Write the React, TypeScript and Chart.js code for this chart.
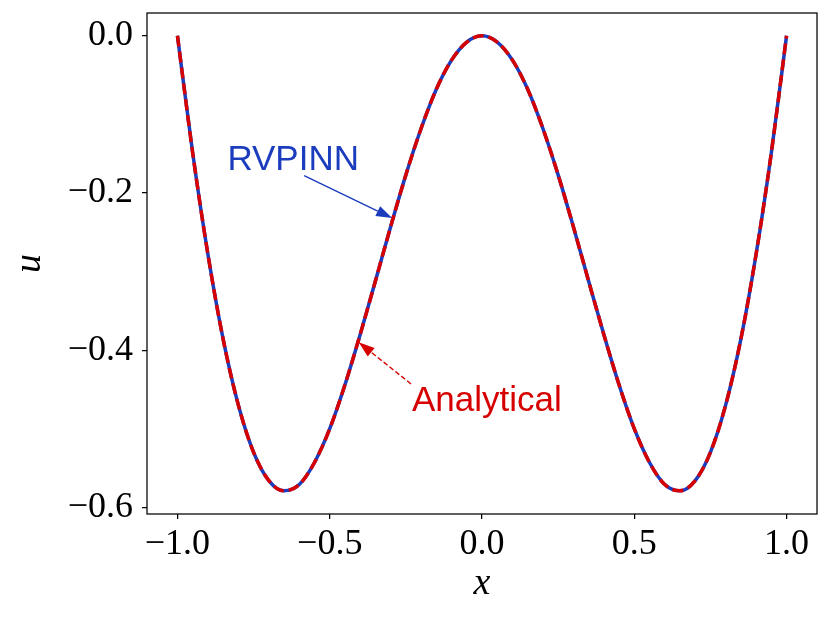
import { useEffect, useRef } from "react";
import { Chart, registerables } from "chart.js";

Chart.register(...registerables);

// x grid (read at 0.05 steps)
const xValues = [
  -1.0, -0.95, -0.9, -0.85, -0.8, -0.75, -0.7, -0.65, -0.6, -0.55, -0.5,
  -0.45, -0.4, -0.35, -0.3, -0.25, -0.2, -0.15, -0.1, -0.05, 0.0,
  0.05, 0.1, 0.15, 0.2, 0.25, 0.3, 0.35, 0.4, 0.45, 0.5,
  0.55, 0.6, 0.65, 0.7, 0.75, 0.8, 0.85, 0.9, 0.95, 1.0,
];

const analytical = [
  0, -0.149, -0.278, -0.386, -0.47, -0.53, -0.566, -0.579, -0.571, -0.543, -0.5,
  -0.444, -0.38, -0.312, -0.243, -0.177, -0.118, -0.068, -0.031, -0.008, 0,
  -0.008, -0.031, -0.068, -0.118, -0.177, -0.243, -0.312, -0.38, -0.444, -0.5,
  -0.543, -0.571, -0.579, -0.566, -0.53, -0.47, -0.386, -0.278, -0.149, 0,
];

const rvpinn = [
  0, -0.149, -0.278, -0.386, -0.47, -0.53, -0.566, -0.579, -0.571, -0.543, -0.5,
  -0.444, -0.38, -0.312, -0.243, -0.177, -0.118, -0.068, -0.031, -0.008, 0,
  -0.008, -0.031, -0.068, -0.118, -0.177, -0.243, -0.312, -0.38, -0.444, -0.5,
  -0.543, -0.571, -0.579, -0.566, -0.53, -0.47, -0.386, -0.278, -0.149, 0,
];

const xTicks = [-1.0, -0.5, 0.0, 0.5, 1.0];
const yTicks = [0.0, -0.2, -0.4, -0.6];

const BLUE = "#1c3cbe";
const RED = "#d60000";

const annotations = [
  {
    text: "RVPINN",
    color: BLUE,
    textX: -0.62,
    textY: -0.171,
    startX: -0.584,
    startY: -0.178,
    tipX: -0.295,
    tipY: -0.232,
    dashed: false,
  },
  {
    text: "Analytical",
    color: RED,
    textX: 0.016,
    textY: -0.478,
    startX: -0.233,
    startY: -0.443,
    tipX: -0.405,
    tipY: -0.39,
    dashed: true,
  },
];

const fmt = (v: number) => {
  const s = Math.abs(v) < 1e-9 ? "0.0" : v.toFixed(1);
  return s.replace("-", "\u2212");
};

const framePlugin = {
  id: "frameAndAnnotations",
  afterDatasetsDraw(chart: any) {
    const { ctx, chartArea, scales } = chart;
    const xs = scales.x;
    const ys = scales.y;
    ctx.save();
    // frame
    ctx.strokeStyle = "#000";
    ctx.lineWidth = 1.25;
    ctx.strokeRect(
      chartArea.left,
      chartArea.top,
      chartArea.right - chartArea.left,
      chartArea.bottom - chartArea.top
    );
    // annotations
    for (const a of annotations) {
      const sx = xs.getPixelForValue(a.startX);
      const sy = ys.getPixelForValue(a.startY);
      const tx = xs.getPixelForValue(a.tipX);
      const ty = ys.getPixelForValue(a.tipY);
      const ang = Math.atan2(ty - sy, tx - sx);
      const headLen = 16;
      const headHalf = 5.5;
      const bx = tx - headLen * Math.cos(ang);
      const by = ty - headLen * Math.sin(ang);
      ctx.strokeStyle = a.color;
      ctx.fillStyle = a.color;
      ctx.lineWidth = 1.4;
      ctx.setLineDash(a.dashed ? [5, 2.5] : []);
      ctx.beginPath();
      ctx.moveTo(sx, sy);
      ctx.lineTo(bx, by);
      ctx.stroke();
      ctx.setLineDash([]);
      ctx.beginPath();
      ctx.moveTo(tx, ty);
      ctx.lineTo(bx + headHalf * Math.sin(ang), by - headHalf * Math.cos(ang));
      ctx.lineTo(bx - headHalf * Math.sin(ang), by + headHalf * Math.cos(ang));
      ctx.closePath();
      ctx.fill();
      ctx.font = "35px 'Liberation Sans', sans-serif";
      ctx.textAlign = "center";
      ctx.textBaseline = "alphabetic";
      ctx.fillText(a.text, xs.getPixelForValue(a.textX), ys.getPixelForValue(a.textY));
    }
    // axis titles
    ctx.fillStyle = "#000";
    ctx.font = "italic 38px 'Liberation Serif', serif";
    ctx.textAlign = "center";
    ctx.textBaseline = "alphabetic";
    ctx.fillText("x", (chartArea.left + chartArea.right) / 2, 594);
    ctx.save();
    ctx.translate(40, (chartArea.top + chartArea.bottom) / 2);
    ctx.rotate(-Math.PI / 2);
    ctx.fillText("u", 0, 0);
    ctx.restore();
    ctx.restore();
  },
};

export default function App() {
  const ref = useRef<HTMLCanvasElement | null>(null);
  useEffect(() => {
    document.body.style.margin = "0";
    const canvas = ref.current!;
    const tickFont = { family: "'Liberation Serif', serif", size: 36 };
    const chart = new Chart(canvas, {
      type: "line",
      data: {
        datasets: [
          {
            label: "Analytical",
            data: xValues.map((x, i) => ({ x, y: analytical[i] })),
            borderColor: RED,
            borderWidth: 3.5,
            borderDash: [11, 5],
            pointRadius: 0,
            cubicInterpolationMode: "monotone",
            fill: false,
            order: 0,
          },
          {
            label: "RVPINN",
            data: xValues.map((x, i) => ({ x, y: rvpinn[i] })),
            borderColor: BLUE,
            borderWidth: 3.5,
            pointRadius: 0,
            cubicInterpolationMode: "monotone",
            fill: false,
            order: 1,
          },
        ],
      },
      options: {
        responsive: false,
        animation: false,
        devicePixelRatio: 1,
        layout: { padding: { left: 0, right: 14, top: 13, bottom: 0 } },
        plugins: {
          legend: { display: false },
          tooltip: { enabled: false },
        },
        scales: {
          x: {
            type: "linear",
            min: -1.1,
            max: 1.1,
            afterBuildTicks: (s: any) => {
              s.ticks = xTicks.map((v) => ({ value: v }));
            },
            afterFit: (s: any) => {
              s.height = 104;
              s.paddingLeft = 0;
              s.paddingRight = 0;
            },
            ticks: {
              color: "#000",
              font: tickFont,
              padding: 4,
              maxRotation: 0,
              autoSkip: false,
              callback: (v: any) => fmt(Number(v)),
            },
            grid: {
              display: true,
              drawOnChartArea: false,
              drawTicks: true,
              tickLength: 5,
              color: "#000",
              lineWidth: 1.25,
            },
            border: { display: false },
          },
          y: {
            type: "linear",
            min: -0.6085,
            max: 0.029,
            afterBuildTicks: (s: any) => {
              s.ticks = yTicks.map((v) => ({ value: v }));
            },
            afterFit: (s: any) => {
              s.width = 147;
              s.paddingTop = 0;
              s.paddingBottom = 0;
            },
            ticks: {
              color: "#000",
              font: tickFont,
              padding: 9,
              autoSkip: false,
              callback: (v: any) => fmt(Number(v)),
            },
            grid: {
              display: true,
              drawOnChartArea: false,
              drawTicks: true,
              tickLength: 5,
              color: "#000",
              lineWidth: 1.25,
            },
            border: { display: false },
          },
        },
      },
      plugins: [framePlugin],
    } as any);
    return () => chart.destroy();
  }, []);
  return (
    <canvas
      ref={ref}
      width={831}
      height={618}
      style={{ display: "block", width: 831, height: 618 }}
    />
  );
}
